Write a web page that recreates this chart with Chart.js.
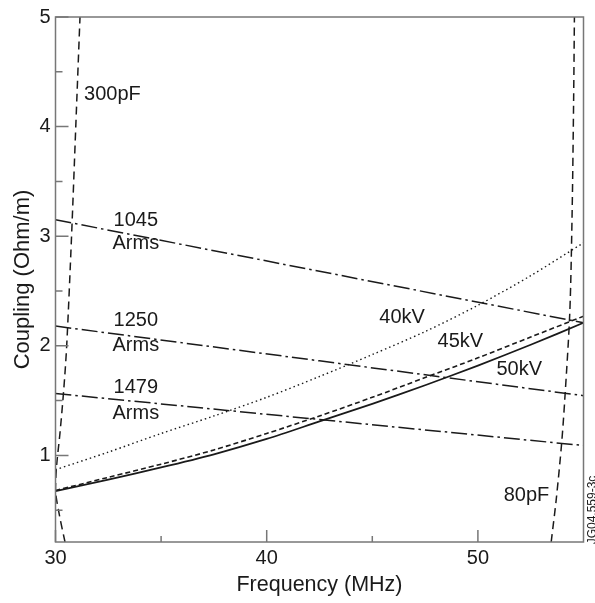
<!DOCTYPE html>
<html>
<head>
<meta charset="utf-8">
<script src="https://cdn.jsdelivr.net/npm/chart.js@4.4.1/dist/chart.umd.min.js"></script>
<style>
  html, body { margin: 0; padding: 0; background: #fff; }
  #wrap { width: 595px; height: 603px; position: relative; }
</style>
</head>
<body>
<div id="wrap"><canvas id="couplingChart"></canvas></div>
<script>
/* Coupling vs frequency - voltage, current and capacitance limits */

// frequency samples (MHz) for the voltage curves
const freqSamples   = [30, 32.5, 35, 37.5, 40, 42.5, 45, 47.5, 50, 52.5, 55];
const coupling40kV  = [0.87, 1.03, 1.20, 1.36, 1.53, 1.72, 1.92, 2.13, 2.37, 2.64, 2.94];
const coupling45kV  = [0.68, 0.80, 0.92, 1.05, 1.20, 1.36, 1.53, 1.71, 1.89, 2.08, 2.27];
const coupling50kV  = [0.675, 0.78, 0.89, 1.01, 1.15, 1.31, 1.47, 1.64, 1.82, 2.01, 2.21];

// current limits (straight lines between the two band edges)
const armsFreq      = [30, 55];
const arms1045      = [3.15, 2.21];
const arms1250      = [2.18, 1.545];
const arms1479      = [1.565, 1.09];

// capacitance limits, sampled along coupling
const cap300Coupling = [0.21, 0.45, 0.68, 0.9, 1.2, 1.6, 2.0, 3.0, 4.0, 5.0];
const cap300Freq     = [30.45, 30.19, 30.0, 30.05, 30.21, 30.39, 30.53, 30.76, 30.96, 31.16];
const cap80Coupling  = [0.21, 0.6, 1.1, 1.5, 2.3, 3.2, 4.2, 5.0];
const cap80Freq      = [53.47, 53.71, 53.96, 54.11, 54.35, 54.46, 54.53, 54.57];

// axes
const xRange      = [30, 55];
const yRange      = [0.21, 5];
const xMajorTicks = [30, 40, 50];
const xMinorTicks = [35, 45];
const yMajorTicks = [1, 2, 3, 4, 5];
const yMinorTicks = [0.5, 1.5, 2.5, 3.5, 4.5];

const FONT = "'Liberation Sans', Arial, Helvetica, sans-serif";
const INK  = '#1a1a1a';
const AXIS = '#777';

const pts = (xs, ys) => xs.map((x, i) => ({ x, y: ys[i] }));

// in-plot labels: [text, freq, coupling]
const curveLabels = [
  ['300pF', 31.35, 4.29],
  ['1045', 32.75, 3.14], ['Arms', 32.7, 2.93],
  ['1250', 32.75, 2.23], ['Arms', 32.7, 2.00],
  ['1479', 32.75, 1.62], ['Arms', 32.7, 1.38],
  ['40kV', 45.33, 2.26],
  ['45kV', 48.09, 2.04],
  ['50kV', 50.88, 1.78],
  ['80pF', 51.22, 0.63]
];

const frameAndLabels = {
  id: 'frameAndLabels',
  afterDatasetsDraw(chart) {
    const { ctx, chartArea: a, scales: { x, y } } = chart;
    ctx.save();

    // frame
    ctx.strokeStyle = AXIS;
    ctx.lineWidth = 1.5;
    ctx.strokeRect(a.left, a.top, a.right - a.left, a.bottom - a.top);

    // inward ticks
    ctx.beginPath();
    yMajorTicks.forEach(v => { const p = y.getPixelForValue(v); ctx.moveTo(a.left, p); ctx.lineTo(a.left + 13, p); });
    yMinorTicks.forEach(v => { const p = y.getPixelForValue(v); ctx.moveTo(a.left, p); ctx.lineTo(a.left + 7, p); });
    xMajorTicks.forEach(v => { const p = x.getPixelForValue(v); ctx.moveTo(p, a.bottom); ctx.lineTo(p, a.bottom - 12); });
    xMinorTicks.forEach(v => { const p = x.getPixelForValue(v); ctx.moveTo(p, a.bottom); ctx.lineTo(p, a.bottom - 6); });
    ctx.stroke();

    // curve labels
    ctx.fillStyle = INK;
    ctx.font = `20px ${FONT}`;
    ctx.textAlign = 'left';
    ctx.textBaseline = 'middle';
    curveLabels.forEach(([t, fx, cy]) => ctx.fillText(t, x.getPixelForValue(fx), y.getPixelForValue(cy)));

    // figure code, rotated at right edge (partly cut off, as in the original)
    ctx.translate(593, 510);
    ctx.rotate(-Math.PI / 2);
    ctx.font = `12px ${FONT}`;
    ctx.textAlign = 'center';
    ctx.fillText('JG04.559-3c', 0, 0);
    ctx.restore();
  }
};

const lineDs = (label, data, dash, width) => ({
  label, data, showLine: true, pointRadius: 0,
  borderColor: INK, borderWidth: width, borderDash: dash,
  fill: false, tension: 0.3, clip: 0
});

new Chart(document.getElementById('couplingChart'), {
  type: 'scatter',
  data: {
    datasets: [
      lineDs('40kV', pts(freqSamples, coupling40kV), [1.5, 3], 1.4),
      lineDs('45kV', pts(freqSamples, coupling45kV), [5, 3], 1.6),
      lineDs('50kV', pts(freqSamples, coupling50kV), [], 1.8),
      lineDs('1045 Arms', pts(armsFreq, arms1045), [16, 4, 2.5, 4], 1.5),
      lineDs('1250 Arms', pts(armsFreq, arms1250), [16, 4, 2.5, 4], 1.5),
      lineDs('1479 Arms', pts(armsFreq, arms1479), [16, 4, 2.5, 4], 1.5),
      lineDs('300pF', pts(cap300Freq, cap300Coupling), [8, 5], 1.5),
      lineDs('80pF', pts(cap80Freq, cap80Coupling), [8, 5], 1.5)
    ]
  },
  options: {
    responsive: true, maintainAspectRatio: false, animation: false,
    layout: { padding: { top: 14, right: 11.5, left: 0, bottom: 0 } },
    plugins: { legend: { display: false }, tooltip: { enabled: false } },
    scales: {
      x: {
        type: 'linear', min: xRange[0], max: xRange[1],
        grid: { display: false, drawTicks: false }, border: { display: false },
        afterBuildTicks: s => { s.ticks = xMajorTicks.map(v => ({ value: v })); },
        afterFit: s => { s.height = 61; },
        ticks: { color: INK, font: { family: FONT, size: 20 }, padding: 4 },
        title: { display: true, text: 'Frequency (MHz)', color: INK,
                 font: { family: FONT, size: 21.5 }, padding: { top: 0, bottom: 5 } }
      },
      y: {
        type: 'linear', min: yRange[0], max: yRange[1],
        grid: { display: false, drawTicks: false }, border: { display: false },
        afterBuildTicks: s => { s.ticks = yMajorTicks.map(v => ({ value: v })); },
        afterFit: s => { s.width = 55.5; },
        ticks: { color: INK, font: { family: FONT, size: 20 }, padding: 5 },
        title: { display: true, text: 'Coupling (Ohm/m)', color: INK,
                 font: { family: FONT, size: 22 }, padding: { top: 10, bottom: 0 } }
      }
    }
  },
  plugins: [frameAndLabels]
});
</script>
</body>
</html>
